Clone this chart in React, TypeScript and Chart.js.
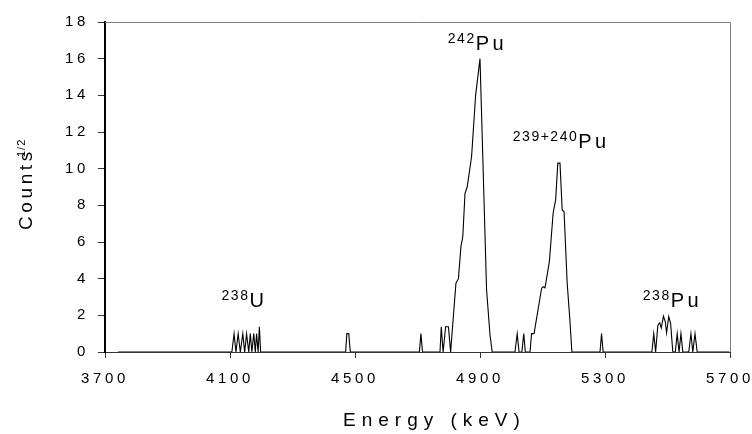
import React, { useEffect, useRef } from "react";
import { Chart, registerables } from "chart.js";

Chart.register(...registerables);

// Spectrum: energy (keV) and sqrt(counts) at each vertex of the trace
const energyKeV = [
  3742, 4106, 4113, 4119, 4126, 4133, 4141, 4147, 4153, 4160, 4165, 4170, 4176, 4181, 4185, 4190, 4194, 4198,
  4470, 4474, 4480, 4485,
  4706, 4711, 4716,
  4772, 4776, 4782, 4790, 4799, 4806, 4823, 4831, 4839, 4845, 4852, 4859, 4873, 4886, 4900, 4921, 4932, 4939,
  5012, 5019, 5025, 5034, 5040, 5045, 5060, 5065, 5073, 5097, 5102, 5108, 5122, 5134, 5142, 5149, 5156, 5163,
  5169, 5179, 5188, 5194,
  5284, 5289, 5294,
  5450, 5456, 5462, 5469, 5475, 5480, 5487, 5493, 5497, 5504, 5510, 5517,
  5525, 5531, 5537, 5543, 5549, 5568, 5575, 5581, 5588, 5595, 5698,
];
const sqrtCounts = [
  0, 0, 1, 0, 1, 0, 1, 0, 1, 0, 1, 0, 1, 0, 1, 0, 1.38, 0,
  0, 1, 1, 0,
  0, 1, 0,
  0, 1.38, 0, 1.38, 1.38, 0, 3.75, 4.0, 5.75, 6.3, 8.65, 9.0, 10.65, 14.0, 16.0, 3.4, 0.93, 0,
  0, 1, 0, 0, 1, 0, 0, 1, 1, 3.47, 3.56, 3.5, 4.93, 7.57, 8.3, 10.3, 10.3, 7.75,
  7.65, 3.75, 1.65, 0,
  0, 1, 0,
  0, 1.0, 0, 1.45, 1.6, 1.3, 1.95, 1.65, 1.05, 1.93, 1.55, 0,
  0, 1, 0, 1, 0, 0, 1, 0, 1, 0, 0,
];

const xTicks = [3700, 4100, 4500, 4900, 5300, 5700];
const yTicks = [0, 2, 4, 6, 8, 10, 12, 14, 16, 18];

// Peak labels: superscript mass number, element, anchor (energy, level)
const isoMass = ["242", "239+240", "238", "238"];
const isoElem = ["Pu", "Pu", "U", "Pu"];
const isoEnergy = [4797, 5005, 4073, 5421];
const isoLevel = [16.45, 11.13, 2.45, 2.45];

const xTitle = "Energy (keV)";
const yTitle = "Counts";
const yTitleSup = "1/2";

const FONT = "'Liberation Sans', Arial, Helvetica, sans-serif";

const spacingPlugin = {
  id: "spacing",
  beforeDraw(chart: any) {
    chart.ctx.letterSpacing = "3.6px";
  },
};

const framePlugin = {
  id: "frame",
  beforeDatasetsDraw(chart: any) {
    const { ctx, chartArea } = chart;
    ctx.save();
    ctx.strokeStyle = "#808080";
    ctx.lineWidth = 1;
    ctx.beginPath();
    ctx.moveTo(chartArea.left, Math.round(chartArea.top) + 0.5);
    ctx.lineTo(Math.round(chartArea.right) + 0.5, Math.round(chartArea.top) + 0.5);
    ctx.lineTo(Math.round(chartArea.right) + 0.5, chartArea.bottom);
    ctx.stroke();
    ctx.restore();
  },
};

const labelsPlugin = {
  id: "labels",
  afterDraw(chart: any) {
    const { ctx, chartArea } = chart;
    const xs = chart.scales.x;
    const ys = chart.scales.y;
    ctx.save();
    ctx.fillStyle = "#000";
    ctx.textBaseline = "alphabetic";
    ctx.textAlign = "left";
    for (let i = 0; i < isoMass.length; i++) {
      const x = xs.getPixelForValue(isoEnergy[i]);
      const y = ys.getPixelForValue(isoLevel[i]);
      ctx.font = `14px ${FONT}`;
      ctx.letterSpacing = "1.5px";
      ctx.fillText(isoMass[i], x, y - 7);
      const w = ctx.measureText(isoMass[i]).width;
      ctx.font = `20px ${FONT}`;
      ctx.letterSpacing = "3.5px";
      ctx.fillText(isoElem[i], x + w, y);
    }
    // x-axis title
    ctx.font = `19px ${FONT}`;
    ctx.letterSpacing = "6px";
    ctx.fillText(xTitle, chartArea.left + 238, chartArea.bottom + 74);
    // y-axis title (rotated)
    ctx.translate(chartArea.left - 73, chartArea.top + 208);
    ctx.rotate(-Math.PI / 2);
    ctx.font = `19px ${FONT}`;
    ctx.letterSpacing = "3.6px";
    ctx.fillText(yTitle, 0, 0);
    ctx.font = `11px ${FONT}`;
    ctx.letterSpacing = "1px";
    ctx.fillText(yTitleSup, 73, -7);
    ctx.restore();
  },
};

export default function App() {
  const ref = useRef<HTMLCanvasElement>(null);
  useEffect(() => {
    if (!ref.current) return;
    Chart.defaults.font.family = FONT;
    const points = energyKeV.map((e, i) => ({ x: e, y: sqrtCounts[i] }));
    const chart = new Chart(ref.current, {
      type: "line",
      data: {
        datasets: [
          {
            data: points,
            borderColor: "#000",
            borderWidth: 1.1,
            pointRadius: 0,
            tension: 0,
            fill: false,
          },
        ],
      },
      options: {
        animation: false,
        responsive: false,
        devicePixelRatio: 1,
        layout: { padding: { left: 0, right: 22, top: 22, bottom: 0 }, autoPadding: false },
        plugins: { legend: { display: false }, tooltip: { enabled: false } },
        scales: {
          x: {
            type: "linear",
            min: 3700,
            max: 5700,
            afterBuildTicks: (s: any) => {
              s.ticks = xTicks.map((v) => ({ value: v }));
            },
            afterFit: (s: any) => {
              s.height = 82;
              s.paddingLeft = 0;
              s.paddingRight = 0;
            },
            grid: { drawOnChartArea: false, drawTicks: true, tickLength: 6, tickColor: "#333" },
            border: { display: true, color: "#333", width: 1 },
            ticks: {
              color: "#000",
              font: { size: 15 },
              padding: 12,
              maxRotation: 0,
              autoSkip: false,
              callback: (v: any) => String(v),
            },
          },
          y: {
            type: "linear",
            min: 0,
            max: 18,
            afterBuildTicks: (s: any) => {
              s.ticks = yTicks.map((v) => ({ value: v }));
            },
            afterFit: (s: any) => {
              s.width = 105;
              s.paddingTop = 0;
              s.paddingBottom = 0;
            },
            grid: { drawOnChartArea: false, drawTicks: true, tickLength: 7, tickColor: "#333" },
            border: { display: true, color: "#000", width: 2 },
            ticks: { color: "#000", font: { size: 15 }, padding: 9, autoSkip: false, callback: (v: any) => String(v) },
          },
        },
      },
      plugins: [spacingPlugin, framePlugin, labelsPlugin],
    } as any);
    return () => chart.destroy();
  }, []);
  return (
    <div style={{ position: "fixed", left: 0, top: 0, width: 752, height: 434, background: "#fff" }}>
      <canvas ref={ref} width={752} height={434} style={{ display: "block" }} />
    </div>
  );
}
